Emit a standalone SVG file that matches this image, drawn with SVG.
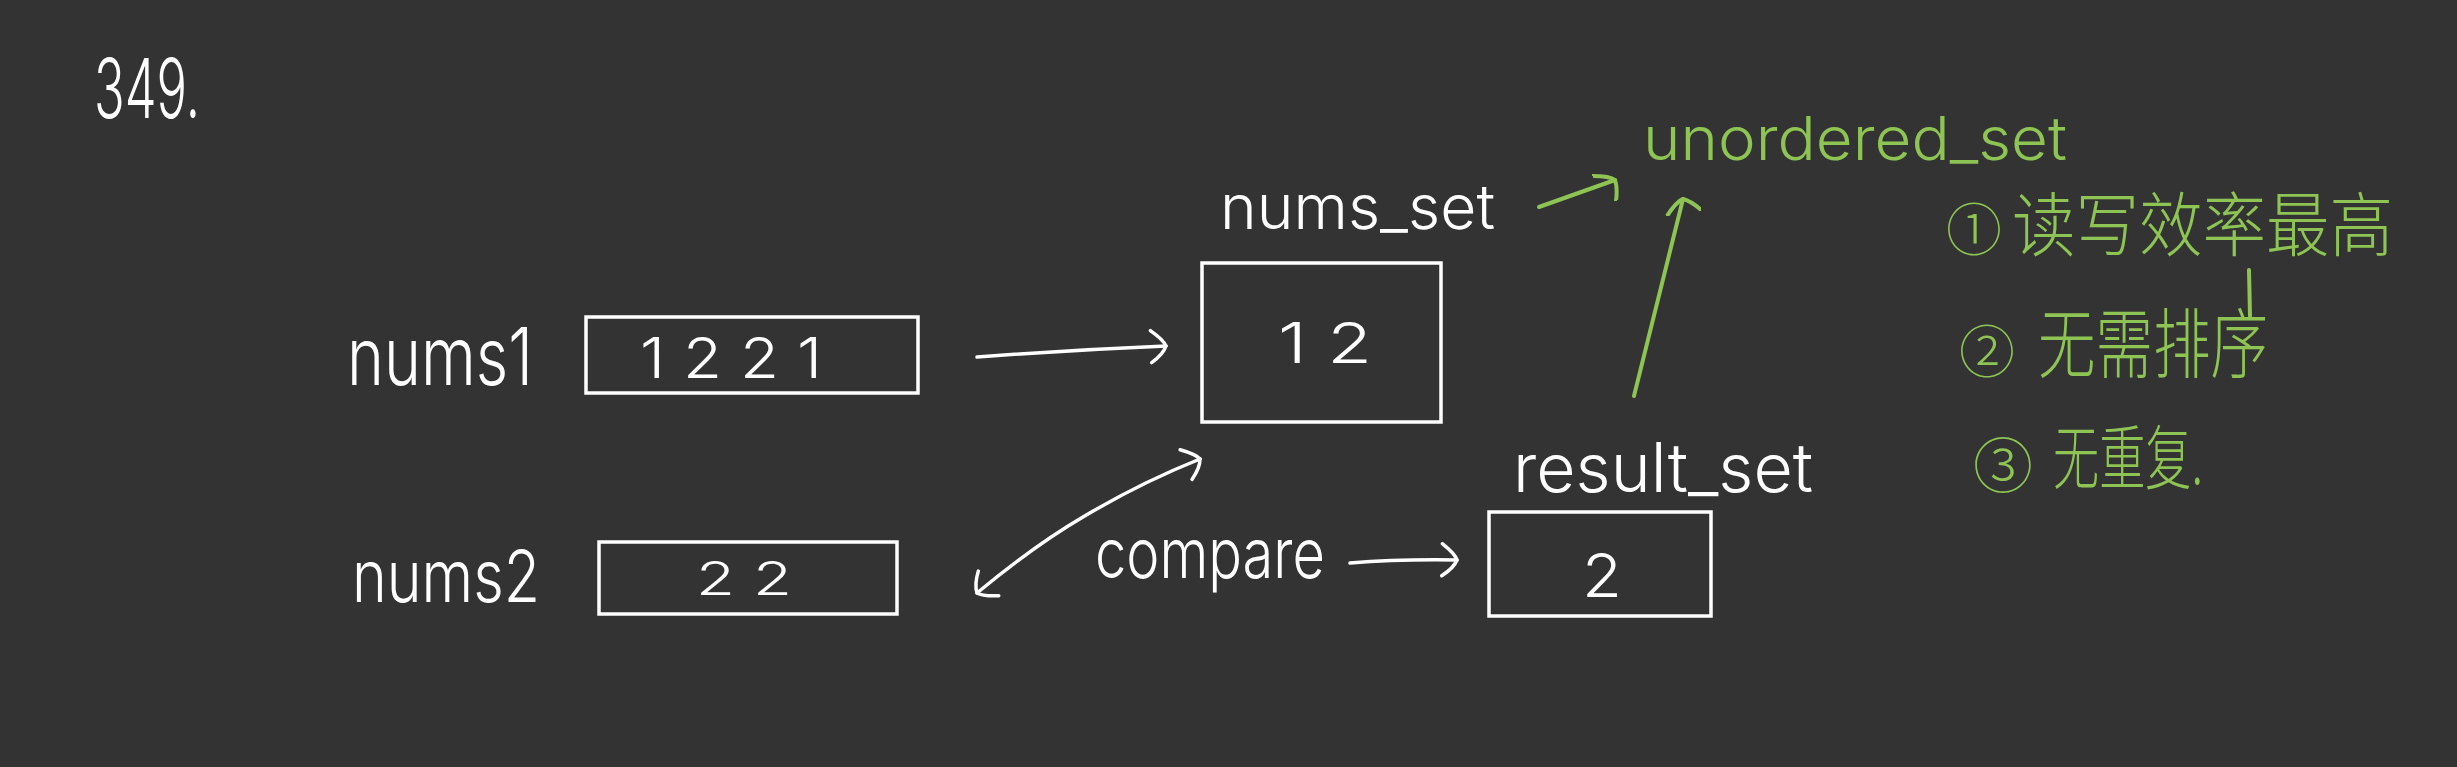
<svg xmlns="http://www.w3.org/2000/svg" width="2457" height="767" viewBox="0 0 2457 767">
<style>
.bg{fill:#333333}
.box{fill:none;stroke:#ffffff;stroke-width:3.5}
.hw{fill:#ffffff;font-family:"Inter","Liberation Sans",sans-serif;font-weight:300}
.gr{fill:#8dc454;font-family:"Inter","Liberation Sans",sans-serif;font-weight:300}
.cn{fill:#8dc454;font-family:"Noto Sans CJK SC","Noto Sans",sans-serif;font-weight:300}
.lw{fill:none;stroke:#ffffff;stroke-width:3.5;stroke-linecap:round}
.lg{fill:none;stroke:#8dc454;stroke-width:4;stroke-linecap:round}
</style>
<defs>
<marker id="aw" markerUnits="userSpaceOnUse" markerWidth="40" markerHeight="40" refX="0" refY="0" viewBox="-20 -20 40 40" orient="auto-start-reverse">
<path d="M-15,-16 Q-2,-6 0,0 Q-3,8 -15,16" fill="none" stroke="#ffffff" stroke-width="3.5" stroke-linecap="round"/>
</marker>
<marker id="ag" markerUnits="userSpaceOnUse" markerWidth="40" markerHeight="40" refX="0" refY="0" viewBox="-20 -20 40 40" orient="auto">
<path d="M-22,-12 Q-4,-6 0,0 Q0,8 -6,20" fill="none" stroke="#8dc454" stroke-width="4" stroke-linecap="round"/>
</marker>
</defs>
<rect class="bg" x="0" y="0" width="2457" height="767"/>

<g id="title">
<text class="hw" x="94" y="118" font-size="82" textLength="106" lengthAdjust="spacingAndGlyphs">349.</text>
</g>

<g id="nums1">
<text class="hw" x="347" y="385" font-size="80" textLength="186" lengthAdjust="spacingAndGlyphs">nums1</text>
<rect class="box" x="586" y="317" width="332" height="76"/>
<text class="hw" x="640" y="378" font-size="56" textLength="182" lengthAdjust="spacingAndGlyphs">1 2 2 1</text>
</g>

<g id="nums2">
<text class="hw" x="352" y="602" font-size="72" textLength="188" lengthAdjust="spacingAndGlyphs">nums2</text>
<rect class="box" x="599" y="542" width="298" height="72"/>
<text class="hw" x="696" y="595" font-size="46" textLength="96" lengthAdjust="spacingAndGlyphs">2 2</text>
</g>

<g id="nums_set">
<text class="hw" x="1220" y="229" font-size="62" textLength="275" lengthAdjust="spacingAndGlyphs">nums_set</text>
<rect class="box" x="1202" y="263" width="239" height="159"/>
<text class="hw" x="1278" y="363" font-size="56" textLength="94" lengthAdjust="spacingAndGlyphs">1 2</text>
</g>

<g id="result_set">
<text class="hw" x="1513" y="492" font-size="68" textLength="300" lengthAdjust="spacingAndGlyphs">result_set</text>
<rect class="box" x="1489" y="512" width="222" height="104"/>
<text class="hw" x="1582" y="597" font-size="60" textLength="40" lengthAdjust="spacingAndGlyphs">2</text>
</g>

<g id="compare">
<text class="hw" x="1095" y="578" font-size="70" textLength="230" lengthAdjust="spacingAndGlyphs">compare</text>
</g>

<g id="unordered_set">
<text class="gr" x="1643" y="160" font-size="60" textLength="424" lengthAdjust="spacingAndGlyphs">unordered_set</text>
</g>

<g id="notes">
<text class="cn" x="1946" y="250" font-size="56">①</text>
<text class="cn" x="2012" y="251" font-size="70" textLength="381" lengthAdjust="spacingAndGlyphs">读写效率最高</text>
<path class="lg" d="M2249,270 L2250,316"/>
<text class="cn" x="1959" y="372" font-size="56">②</text>
<text class="cn" x="2038" y="372" font-size="76" textLength="230" lengthAdjust="spacingAndGlyphs">无需排序</text>
<text class="cn" x="1973" y="488" font-size="60">③</text>
<text class="cn" x="2053" y="484" font-size="70" textLength="150" lengthAdjust="spacingAndGlyphs">无重复.</text>
</g>

<g id="connectors">
<path class="lw" d="M977,357 Q1070,350 1166,346" marker-end="url(#aw)"/>
<path class="lw" d="M977,593 Q1035,545 1083,517 Q1140,483 1200,459" marker-start="url(#aw)" marker-end="url(#aw)"/>
<path class="lw" d="M1350,563 Q1400,559 1457,560" marker-end="url(#aw)"/>
<path class="lg" d="M1539,207 L1615,180" marker-end="url(#ag)"/>
<path class="lg" d="M1634,396 L1683,199" marker-end="url(#ag)"/>
</g>
</svg>
